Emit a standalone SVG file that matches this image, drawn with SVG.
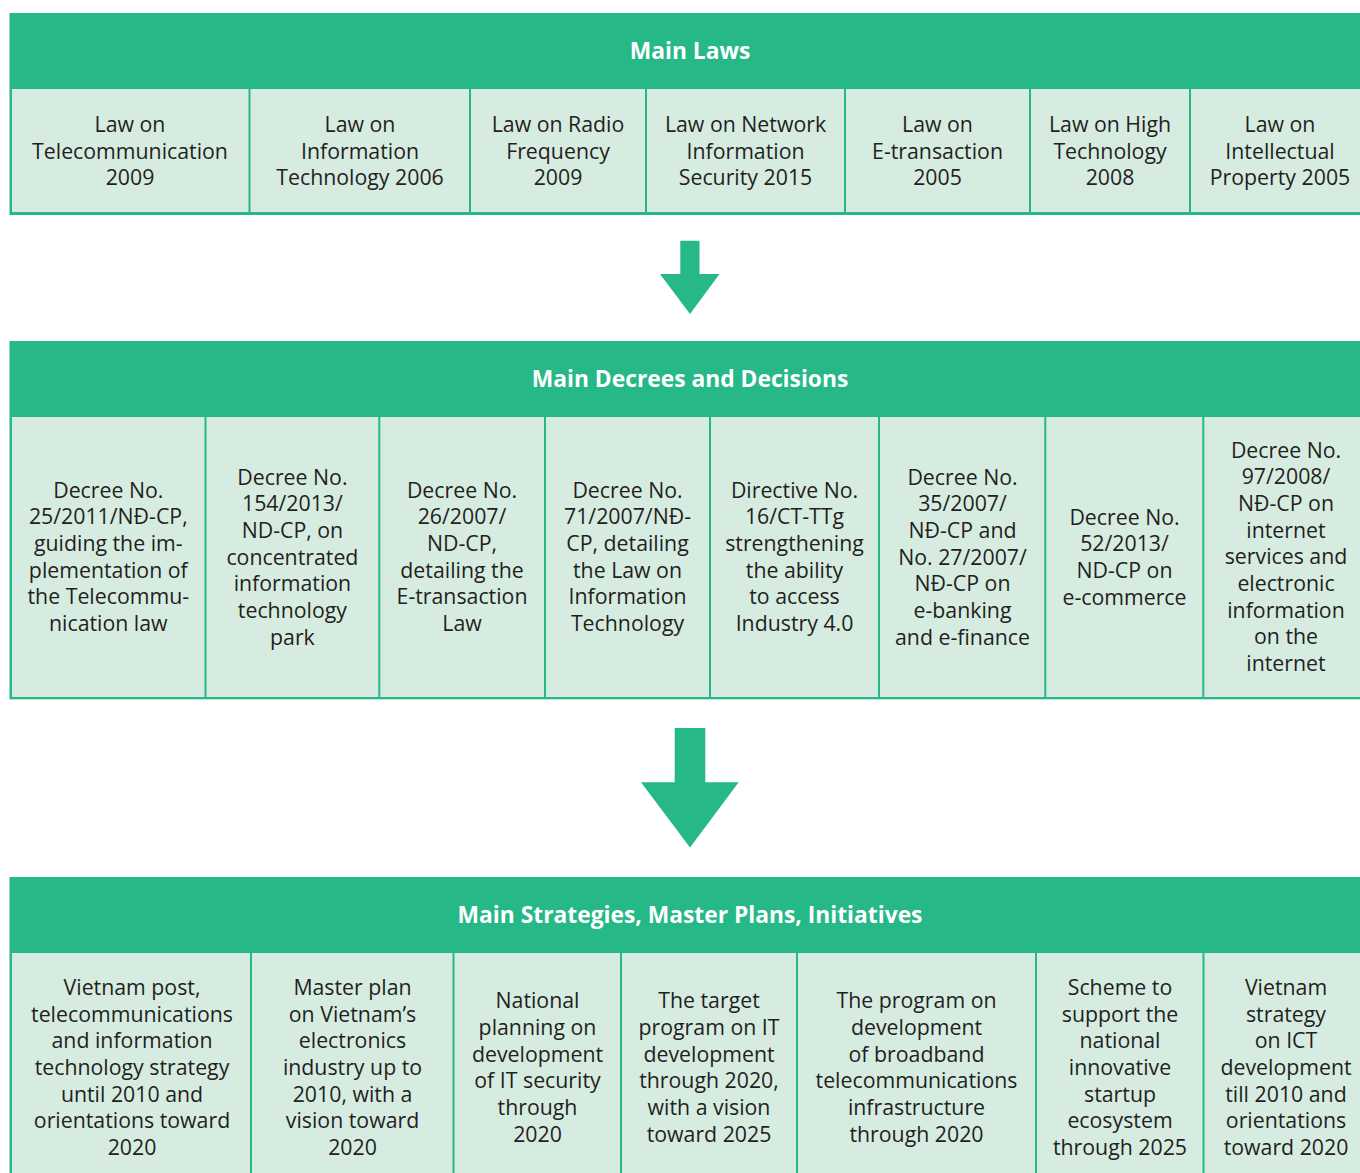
<svg xmlns="http://www.w3.org/2000/svg" width="1360" height="1173" viewBox="0 0 1360 1173">
<style>
.bg{fill:#ffffff}
.frame{fill:#26b887}
.cell{fill:#d7ece1}
.hd{font-family:"Open Sans","Noto Sans",sans-serif;font-size:22.8px;font-weight:700;fill:#ffffff;text-anchor:middle}
.t{font-family:"Open Sans","Noto Sans",sans-serif;font-size:21.3px;fill:#231f20;text-anchor:middle}
.arrow{fill:#26b887}
</style>
<rect class="bg" x="0" y="0" width="1360" height="1173"/>

<!-- Section 1: Main Laws -->
<g id="laws">
  <rect class="frame" x="9.5" y="13" width="1370" height="202"/>
  <text class="hd" x="690" y="59">Main Laws</text>
  <g id="law1"><rect class="cell" x="12" y="89" width="236.5" height="123"/>
    <text class="t" y="132"><tspan x="130">Law on</tspan><tspan x="130" dy="26.67">Telecommunication</tspan><tspan x="130" dy="26.67">2009</tspan></text></g>
  <g id="law2"><rect class="cell" x="250.5" y="89" width="218.5" height="123"/>
    <text class="t" y="132"><tspan x="360">Law on</tspan><tspan x="360" dy="26.67">Information</tspan><tspan x="360" dy="26.67">Technology 2006</tspan></text></g>
  <g id="law3"><rect class="cell" x="471" y="89" width="174" height="123"/>
    <text class="t" y="132"><tspan x="558">Law on Radio</tspan><tspan x="558" dy="26.67">Frequency</tspan><tspan x="558" dy="26.67">2009</tspan></text></g>
  <g id="law4"><rect class="cell" x="647" y="89" width="197" height="123"/>
    <text class="t" y="132"><tspan x="745.5">Law on Network</tspan><tspan x="745.5" dy="26.67">Information</tspan><tspan x="745.5" dy="26.67">Security 2015</tspan></text></g>
  <g id="law5"><rect class="cell" x="846" y="89" width="183" height="123"/>
    <text class="t" y="132"><tspan x="937.5">Law on</tspan><tspan x="937.5" dy="26.67">E-transaction</tspan><tspan x="937.5" dy="26.67">2005</tspan></text></g>
  <g id="law6"><rect class="cell" x="1031" y="89" width="158" height="123"/>
    <text class="t" y="132"><tspan x="1110">Law on High</tspan><tspan x="1110" dy="26.67">Technology</tspan><tspan x="1110" dy="26.67">2008</tspan></text></g>
  <g id="law7"><rect class="cell" x="1191" y="89" width="189" height="123"/>
    <text class="t" y="132"><tspan x="1280">Law on</tspan><tspan x="1280" dy="26.67">Intellectual</tspan><tspan x="1280" dy="26.67">Property 2005</tspan></text></g>
</g>

<!-- Section 2: Main Decrees and Decisions -->
<g id="decrees">
  <rect class="frame" x="9.5" y="341" width="1370" height="358.3"/>
  <text class="hd" x="690" y="387">Main Decrees and Decisions</text>
  <g id="dec1"><rect class="cell" x="12" y="417" width="192.5" height="280"/>
    <text class="t" y="497.8"><tspan x="108.3">Decree No.</tspan><tspan x="108.3" dy="26.67">25/2011/NĐ-CP,</tspan><tspan x="108.3" dy="26.67">guiding the im-</tspan><tspan x="108.3" dy="26.67">plementation of</tspan><tspan x="108.3" dy="26.67">the Telecommu-</tspan><tspan x="108.3" dy="26.67">nication law</tspan></text></g>
  <g id="dec2"><rect class="cell" x="206.5" y="417" width="171.8" height="280"/>
    <text class="t" y="484.5"><tspan x="292.4">Decree No.</tspan><tspan x="292.4" dy="26.67">154/2013/</tspan><tspan x="292.4" dy="26.67">ND-CP, on</tspan><tspan x="292.4" dy="26.67">concentrated</tspan><tspan x="292.4" dy="26.67">information</tspan><tspan x="292.4" dy="26.67">technology</tspan><tspan x="292.4" dy="26.67">park</tspan></text></g>
  <g id="dec3"><rect class="cell" x="380.3" y="417" width="163.7" height="280"/>
    <text class="t" y="497.8"><tspan x="462">Decree No.</tspan><tspan x="462" dy="26.67">26/2007/</tspan><tspan x="462" dy="26.67">ND-CP,</tspan><tspan x="462" dy="26.67">detailing the</tspan><tspan x="462" dy="26.67">E-transaction</tspan><tspan x="462" dy="26.67">Law</tspan></text></g>
  <g id="dec4"><rect class="cell" x="546" y="417" width="163" height="280"/>
    <text class="t" y="497.8"><tspan x="627.5">Decree No.</tspan><tspan x="627.5" dy="26.67">71/2007/NĐ-</tspan><tspan x="627.5" dy="26.67">CP, detailing</tspan><tspan x="627.5" dy="26.67">the Law on</tspan><tspan x="627.5" dy="26.67">Information</tspan><tspan x="627.5" dy="26.67">Technology</tspan></text></g>
  <g id="dec5"><rect class="cell" x="711" y="417" width="167" height="280"/>
    <text class="t" y="497.8"><tspan x="794.5">Directive No.</tspan><tspan x="794.5" dy="26.67">16/CT-TTg</tspan><tspan x="794.5" dy="26.67">strengthening</tspan><tspan x="794.5" dy="26.67">the ability</tspan><tspan x="794.5" dy="26.67">to access</tspan><tspan x="794.5" dy="26.67">Industry 4.0</tspan></text></g>
  <g id="dec6"><rect class="cell" x="880" y="417" width="164.3" height="280"/>
    <text class="t" y="484.5"><tspan x="962.5">Decree No.</tspan><tspan x="962.5" dy="26.67">35/2007/</tspan><tspan x="962.5" dy="26.67">NĐ-CP and</tspan><tspan x="962.5" dy="26.67">No. 27/2007/</tspan><tspan x="962.5" dy="26.67">NĐ-CP on</tspan><tspan x="962.5" dy="26.67">e-banking</tspan><tspan x="962.5" dy="26.67">and e-finance</tspan></text></g>
  <g id="dec7"><rect class="cell" x="1046.3" y="417" width="156" height="280"/>
    <text class="t" y="524.5"><tspan x="1124.5">Decree No.</tspan><tspan x="1124.5" dy="26.67">52/2013/</tspan><tspan x="1124.5" dy="26.67">ND-CP on</tspan><tspan x="1124.5" dy="26.67">e-commerce</tspan></text></g>
  <g id="dec8"><rect class="cell" x="1204.3" y="417" width="176" height="280"/>
    <text class="t" y="457.8"><tspan x="1286">Decree No.</tspan><tspan x="1286" dy="26.67">97/2008/</tspan><tspan x="1286" dy="26.67">NĐ-CP on</tspan><tspan x="1286" dy="26.67">internet</tspan><tspan x="1286" dy="26.67">services and</tspan><tspan x="1286" dy="26.67">electronic</tspan><tspan x="1286" dy="26.67">information</tspan><tspan x="1286" dy="26.67">on the</tspan><tspan x="1286" dy="26.67">internet</tspan></text></g>
</g>

<!-- Section 3: Main Strategies, Master Plans, Initiatives -->
<g id="strategies">
  <rect class="frame" x="9.5" y="877" width="1370" height="310"/>
  <text class="hd" x="690" y="923">Main Strategies, Master Plans, Initiatives</text>
  <g id="str1"><rect class="cell" x="12" y="953" width="238" height="240"/>
    <text class="t" y="995"><tspan x="132">Vietnam post,</tspan><tspan x="132" dy="26.67">telecommunications</tspan><tspan x="132" dy="26.67">and information</tspan><tspan x="132" dy="26.67">technology strategy</tspan><tspan x="132" dy="26.67">until 2010 and</tspan><tspan x="132" dy="26.67">orientations toward</tspan><tspan x="132" dy="26.67">2020</tspan></text></g>
  <g id="str2"><rect class="cell" x="252" y="953" width="200.5" height="240"/>
    <text class="t" y="995"><tspan x="352.5">Master plan</tspan><tspan x="352.5" dy="26.67">on Vietnam’s</tspan><tspan x="352.5" dy="26.67">electronics</tspan><tspan x="352.5" dy="26.67">industry up to</tspan><tspan x="352.5" dy="26.67">2010, with a</tspan><tspan x="352.5" dy="26.67">vision toward</tspan><tspan x="352.5" dy="26.67">2020</tspan></text></g>
  <g id="str3"><rect class="cell" x="454.5" y="953" width="165.5" height="240"/>
    <text class="t" y="1008.3"><tspan x="537.5">National</tspan><tspan x="537.5" dy="26.67">planning on</tspan><tspan x="537.5" dy="26.67">development</tspan><tspan x="537.5" dy="26.67">of IT security</tspan><tspan x="537.5" dy="26.67">through</tspan><tspan x="537.5" dy="26.67">2020</tspan></text></g>
  <g id="str4"><rect class="cell" x="622" y="953" width="174" height="240"/>
    <text class="t" y="1008.3"><tspan x="709">The target</tspan><tspan x="709" dy="26.67">program on IT</tspan><tspan x="709" dy="26.67">development</tspan><tspan x="709" dy="26.67">through 2020,</tspan><tspan x="709" dy="26.67">with a vision</tspan><tspan x="709" dy="26.67">toward 2025</tspan></text></g>
  <g id="str5"><rect class="cell" x="798" y="953" width="237" height="240"/>
    <text class="t" y="1008.3"><tspan x="916.5">The program on</tspan><tspan x="916.5" dy="26.67">development</tspan><tspan x="916.5" dy="26.67">of broadband</tspan><tspan x="916.5" dy="26.67">telecommunications</tspan><tspan x="916.5" dy="26.67">infrastructure</tspan><tspan x="916.5" dy="26.67">through 2020</tspan></text></g>
  <g id="str6"><rect class="cell" x="1037" y="953" width="165.5" height="240"/>
    <text class="t" y="995"><tspan x="1120">Scheme to</tspan><tspan x="1120" dy="26.67">support the</tspan><tspan x="1120" dy="26.67">national</tspan><tspan x="1120" dy="26.67">innovative</tspan><tspan x="1120" dy="26.67">startup</tspan><tspan x="1120" dy="26.67">ecosystem</tspan><tspan x="1120" dy="26.67">through 2025</tspan></text></g>
  <g id="str7"><rect class="cell" x="1204.5" y="953" width="176" height="240"/>
    <text class="t" y="995"><tspan x="1286">Vietnam</tspan><tspan x="1286" dy="26.67">strategy</tspan><tspan x="1286" dy="26.67">on ICT</tspan><tspan x="1286" dy="26.67">development</tspan><tspan x="1286" dy="26.67">till 2010 and</tspan><tspan x="1286" dy="26.67">orientations</tspan><tspan x="1286" dy="26.67">toward 2020</tspan></text></g>
</g>

<!-- Connectors -->
<g id="connectors">
  <polygon class="arrow" points="680.3,240.7 699.5,240.7 699.5,274 719.5,274 690,314 660,274 680.3,274"/>
  <polygon class="arrow" points="674.7,728 705.3,728 705.3,782.3 738.7,782.3 690,847.5 641,782.3 674.7,782.3"/>
</g>
</svg>
